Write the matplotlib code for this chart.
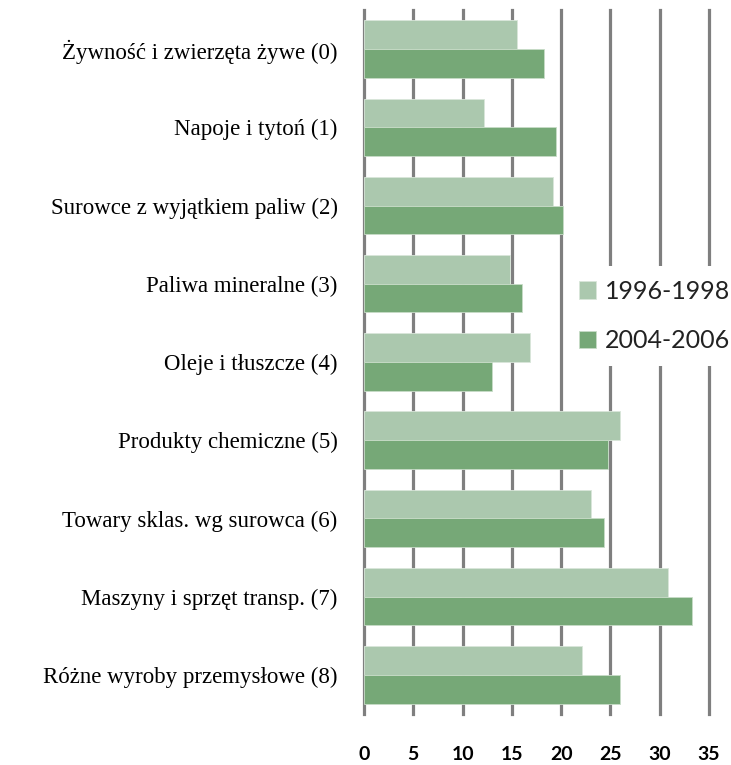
import matplotlib.pyplot as plt
import numpy as np

# categories (top to bottom)
categories = [
    'Żywność i zwierzęta żywe (0)',
    'Napoje i tytoń (1)',
    'Surowce z wyjątkiem paliw (2)',
    'Paliwa mineralne (3)',
    'Oleje i tłuszcze (4)',
    'Produkty chemiczne (5)',
    'Towary sklas. wg surowca (6)',
    'Maszyny i sprzęt transp. (7)',
    'Różne wyroby przemysłowe (8)',
]
series_names = ['1996-1998', '2004-2006']
values_1996 = [15.5, 12.2, 19.2, 14.8, 16.8, 26.0, 23.0, 30.8, 22.1]
values_2004 = [18.3, 19.5, 20.2, 16.0, 13.0, 24.75, 24.3, 33.3, 26.0]
x_ticks = [0, 5, 10, 15, 20, 25, 30, 35]

light = '#abc8ae'
dark = '#76a877'
grid = '#7f7f7f'

fig = plt.figure(figsize=(7.31, 7.65), dpi=100)
ax = fig.add_axes([0.498, 0.0667, 0.472, 0.9203])

y = np.arange(len(categories))
h = 0.367
ax.barh(y - h / 2, values_1996, height=h, color=light, edgecolor='#d9e6da',
        linewidth=0.6, label=series_names[0], zorder=3)
ax.barh(y + h / 2, values_2004, height=h, color=dark, edgecolor='#c8dcc8',
        linewidth=0.6, label=series_names[1], zorder=3)

ax.set_xlim(0, 35)
ax.set_ylim(len(categories) - 0.5, -0.5)
ax.set_xticks(x_ticks)
for t in x_ticks:
    ax.axvline(t, color=grid, linewidth=2.3, zorder=1, clip_on=False)

for s in ax.spines.values():
    s.set_visible(False)

ax.set_yticks(y)
ax.set_yticklabels(categories, family='Liberation Serif', fontsize=16.5)
ax.tick_params(axis='y', length=0, pad=19)
ax.tick_params(axis='x', length=0, pad=23, labelsize=14)
for lab in ax.get_xticklabels():
    lab.set_family('Lato')
    lab.set_fontweight('bold')

leg = ax.legend(loc='upper left', bbox_to_anchor=(565 / 731, 1 - 266 / 765),
                bbox_transform=fig.transFigure, frameon=True, fancybox=False,
                framealpha=1, facecolor='white', edgecolor='none',
                prop={'family': 'Lato', 'size': 18},
                handlelength=0.7, handleheight=0.7, handletextpad=0.35,
                labelspacing=1.05, borderpad=0.55, borderaxespad=0)
for txt in leg.get_texts():
    txt.set_color('#222222')
leg.set_zorder(5)

fig.savefig('out.png', dpi=100)
